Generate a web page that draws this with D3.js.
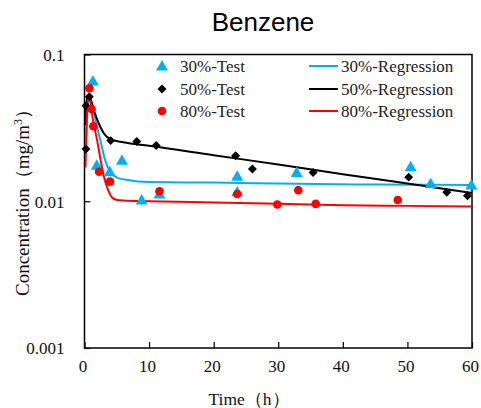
<!DOCTYPE html>
<html><head><meta charset="utf-8">
<script src="https://cdn.jsdelivr.net/npm/d3@7"></script>
<style>body{margin:0;background:#fff}svg{display:block}</style>
</head><body><svg id="c" width="481" height="408"></svg>
<script>
const xTicks = [0, 10, 20, 30, 40, 50, 60];
const yTicks = [0.001, 0.01, 0.1];
const yTickLabels = ["0.001", "0.01", "0.1"];
const seriesNames = ["30%", "50%", "80%"];
const colors = ["#00B0F0", "#000000", "#FF0000"];

const test30 = [[1.3,0.066],[1.9,0.0176],[3.9,0.0159],[5.8,0.019],[8.85,0.0102],[11.6,0.0112],[23.65,0.0148],[23.65,0.0116],[32.85,0.0157],[50.5,0.0172],[53.6,0.0132],[59.9,0.0129]];
const test50 = [[0.23,0.0227],[0.23,0.0447],[0.75,0.0516],[4.05,0.0259],[8.1,0.0255],[11.1,0.024],[23.4,0.0204],[26.0,0.0166],[35.4,0.0157],[50.2,0.0146],[56.1,0.0115],[59.3,0.0109]];
const test80 = [[0.75,0.0589],[1.1,0.0425],[1.37,0.0324],[2.25,0.0159],[3.95,0.0136],[11.6,0.0117],[23.65,0.0112],[33.1,0.0119],[29.85,0.0095],[35.8,0.0096],[48.5,0.0102]];

const reg30 = [[0.15,0.022],[0.4,0.038],[0.8,0.05],[1.2,0.046],[1.8,0.034],[2.45,0.0261],[3.2,0.019],[4.0,0.0158],[5.0,0.0145],[6.5,0.014],[10,0.0135],[20,0.0134],[30,0.0132],[45,0.013],[60,0.0129]];
const reg50 = [[0.1,0.033],[0.4,0.05],[0.8,0.051],[1.5,0.041],[2.2,0.034],[3,0.029],[4,0.0265],[6,0.0252],[10,0.0239],[20,0.0206],[30,0.0178],[40,0.0153],[50,0.0132],[60,0.0114]];
const reg80 = [[0.15,0.017],[0.35,0.035],[0.6,0.054],[0.9,0.048],[1.3,0.036],[1.95,0.0261],[2.6,0.018],[3.13,0.014],[3.7,0.0118],[4.26,0.0106],[5,0.0102],[6,0.0101],[10,0.01],[20,0.0098],[30,0.0096],[40,0.0094],[50,0.0093],[60,0.0092]];

const tests = [test30, test50, test80];
const regs = [reg30, reg50, reg80];

const L = 84.5, R = 472, T = 54.5, B = 348;
const svg = d3.select("#c");
const x = d3.scaleLinear().domain([0, 60]).range([L, R]);
const y = d3.scaleLog().domain([0.001, 0.1]).range([B, T]);
const serif = "'Liberation Serif','Times New Roman',serif";

svg.append("text").attr("x", 263).attr("y", 31).attr("text-anchor", "middle")
  .attr("font-family", "'Liberation Sans',Arial,sans-serif").attr("font-size", 26).text("Benzene");

// axes (inside ticks)
const xAxis = d3.axisBottom(x).tickValues(xTicks).tickSize(-6).tickPadding(12).tickFormat(d3.format("d"));
const gx = svg.append("g").attr("transform", `translate(0,${B})`).call(xAxis);
const yAxis = d3.axisLeft(y).tickValues(yTicks).tickSize(-6).tickPadding(14).tickFormat((d, i) => yTickLabels[i]);
const gy = svg.append("g").attr("transform", `translate(${L},0)`).call(yAxis);
[gx, gy].forEach(g => {
  g.select(".domain").remove();
  g.selectAll("line").attr("stroke", "#000").attr("stroke-width", 1.2);
  g.selectAll("text").attr("font-family", serif).attr("font-size", 17).attr("fill", "#111");
});
gx.selectAll("text").attr("dx", -2);
gy.selectAll("text").attr("dy", "0.35em").attr("x", -20);

// frame
svg.append("rect").attr("x", L).attr("y", T).attr("width", R - L).attr("height", B - T)
  .attr("fill", "none").attr("stroke", "#000").attr("stroke-width", 1.5);

svg.append("text").attr("x", 249).attr("y", 405).attr("text-anchor", "middle")
  .attr("font-family", serif).attr("font-size", 17.5).attr("fill", "#111").text("Time（h）");
const yl = svg.append("text").attr("transform", "translate(29,198) rotate(-90)").attr("text-anchor", "middle")
  .attr("font-family", serif).attr("font-size", 19).attr("fill", "#111");
yl.append("tspan").text("Concentration（mg/m");
yl.append("tspan").attr("dy", -7).attr("font-size", 12).text("3");
yl.append("tspan").attr("dy", 7).text("）");

svg.append("clipPath").attr("id", "cp").append("rect").attr("x", L).attr("y", T).attr("width", R - L).attr("height", B - T);

const line = d3.line().x(d => x(d[0])).y(d => y(d[1])).curve(d3.curveMonotoneX);
regs.forEach((r, i) => {
  svg.append("path").datum(r).attr("d", line).attr("fill", "none")
    .attr("stroke", colors[i]).attr("stroke-width", 2).attr("clip-path", "url(#cp)");
});

const shapes = [d3.symbolTriangle, d3.symbolSquare, d3.symbolCircle];
const sizes = [62, 40, 58];
function marker(g, i, px, py) {
  const s = d3.symbol().type(shapes[i]).size(sizes[i]);
  const p = g.append("path").attr("d", s()).attr("fill", colors[i]);
  if (i === 1) p.attr("transform", `translate(${px},${py}) rotate(45)`);
  else if (i === 0) p.attr("transform", `translate(${px},${py+1})`);
  else p.attr("transform", `translate(${px},${py})`);
}
tests.forEach((t, i) => {
  const g = svg.append("g");
  t.forEach(d => marker(g, i, x(d[0]), y(d[1])));
});

// legend
const rowsY = [66, 89, 111];
const lg = svg.append("g");
seriesNames.forEach((n, i) => {
  marker(lg, i, 162, rowsY[i]);
  lg.append("text").attr("x", 180).attr("y", rowsY[i]).attr("dy", "0.35em")
    .attr("font-family", serif).attr("font-size", 17).attr("fill", "#222").text(n + "-Test");
  lg.append("line").attr("x1", 309).attr("x2", 338).attr("y1", rowsY[i]).attr("y2", rowsY[i])
    .attr("stroke", colors[i]).attr("stroke-width", 2);
  lg.append("text").attr("x", 341).attr("y", rowsY[i]).attr("dy", "0.35em")
    .attr("font-family", serif).attr("font-size", 17).attr("fill", "#222").text(n + "-Regression");
});
</script></body></html>
